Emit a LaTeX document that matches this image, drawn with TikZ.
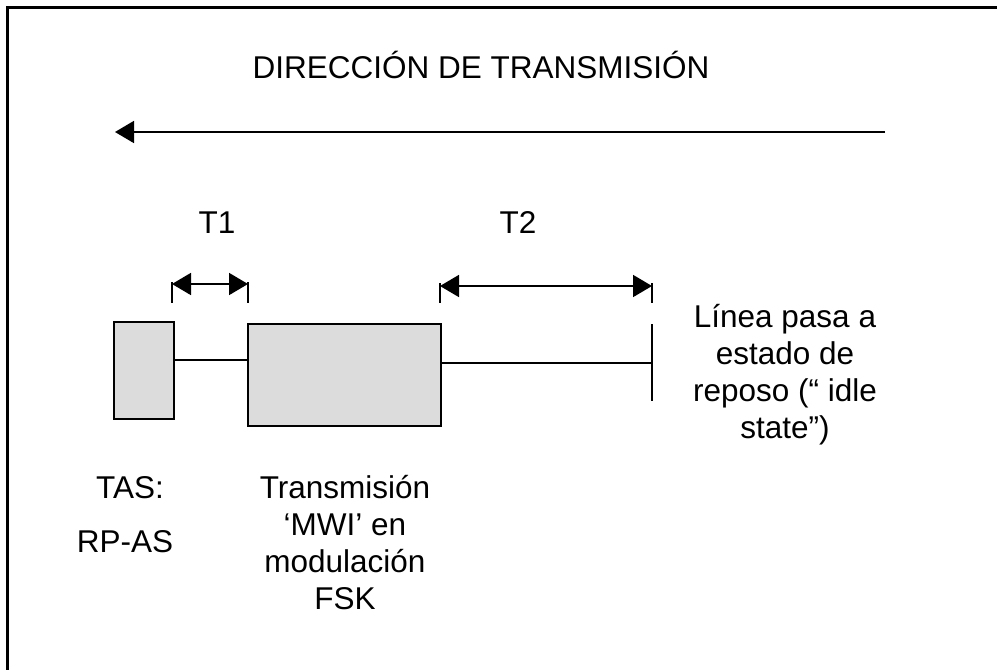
\documentclass[tikz,border=0pt]{standalone}
\usepackage{fontspec}
\setmainfont{Liberation Sans}
\usetikzlibrary{arrows.meta}
\begin{document}
\begin{tikzpicture}[x=1pt,y=-1pt,
  lbl/.style={font=\fontsize{31.5}{37}\selectfont, inner sep=0pt, anchor=base, align=center},
  box/.style={draw, line width=2pt, fill=boxgray, inner sep=0pt},
  ln/.style={line width=1.8pt},
  dim/.style={line width=1.8pt, {Triangle[length=19pt,width=22pt]}-{Triangle[length=19pt,width=22pt]}},
  tick/.style={line width=1.6pt}]
\definecolor{boxgray}{RGB}{220,220,220}
\useasboundingbox (0,0) rectangle (997,670);
% frame
\draw[line width=3pt] (7.5,672) -- (7.5,7.5) -- (999,7.5);
% title and main arrow
\node[lbl] (title) at (481,78) {DIRECCIÓN DE TRANSMISIÓN};
\coordinate (dirR) at (885,132);
\coordinate (dirL) at (115,132);
\draw[line width=1.8pt, -{Triangle[length=19pt,width=22pt]}] (dirR) -- (dirL);
% boxes
\node[box, minimum width=60pt, minimum height=97pt] (tas) at (144,370.5) {};
\node[box, minimum width=193pt, minimum height=102pt] (fsk) at (344.5,375) {};
% connectors
\draw[ln] (tas.east |- 0,360) -- (fsk.west |- 0,360);
\coordinate (idle) at (652,363);
\coordinate (idletop) at (652,324);
\coordinate (idlebot) at (652,401);
\draw[ln] (fsk.east |- idle) -- (idle);
\draw[ln] (idletop) -- (idlebot);
% T1
\coordinate (t1a) at (172,284);
\coordinate (t1b) at (248,284);
\draw[tick] (172,282) -- (172,303);
\draw[tick] (248,282) -- (248,303);
\draw[dim] (t1a) -- (t1b);
\node[lbl] (T1) at (217,233) {T1};
% T2
\coordinate (t2a) at (440,286);
\coordinate (t2b) at (652,286);
\draw[tick] (440,283) -- (440,303);
\draw[tick] (652,283) -- (652,303);
\draw[dim] (t2a) -- (t2b);
\node[lbl] (T2) at (518,233) {T2};
% labels (base anchor = last line baseline)
\node[lbl] (idletxt) at (785,438) {Línea pasa a\\estado de\\reposo (“ idle\\state”)};
\node[lbl] (tastxt) at (130,498) {TAS:};
\node[lbl] (rpas) at (125,552) {RP-AS};
\node[lbl] (fsktxt) at (345,609) {Transmisión\\‘MWI’ en\\modulación\\FSK};
\end{tikzpicture}
\end{document}
